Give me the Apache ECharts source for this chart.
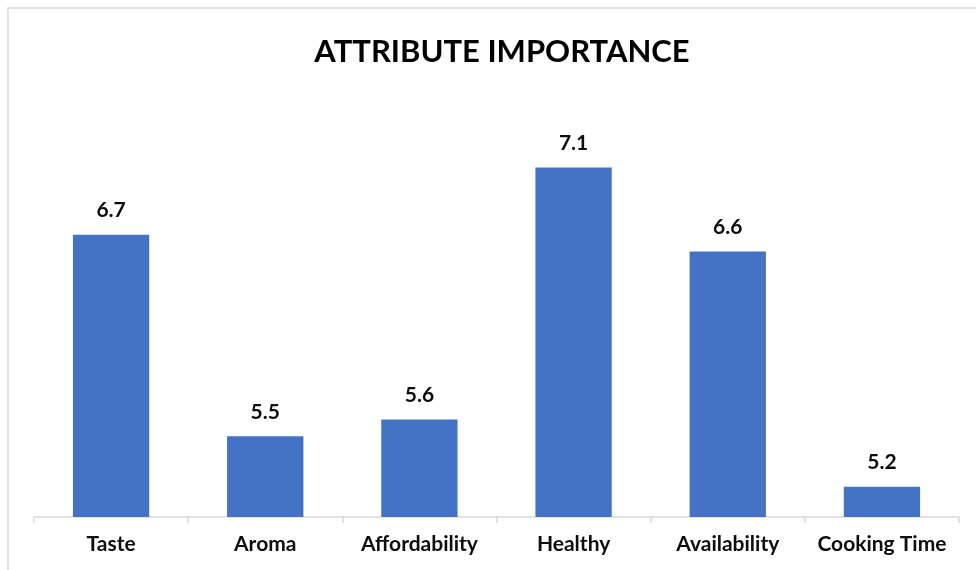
<!DOCTYPE html>
<html>
<head>
<meta charset="utf-8">
<script src="https://cdn.jsdelivr.net/npm/echarts@6/dist/echarts.min.js"></script>
<style>
  html, body { margin: 0; padding: 0; background: #fff; }
  #chart { width: 976px; height: 570px; }
</style>
</head>
<body>
<div id="chart"></div>
<script>
// Attribute importance scores
const categories = ['Taste', 'Aroma', 'Affordability', 'Healthy', 'Availability', 'Cooking Time'];
const importance = [6.7, 5.5, 5.6, 7.1, 6.6, 5.2];
const chartTitle = 'ATTRIBUTE IMPORTANCE';

const FONT = 'Lato, "Open Sans", sans-serif';
const chart = echarts.init(document.getElementById('chart'), null, { renderer: 'canvas' });

chart.setOption({
  backgroundColor: '#ffffff',
  animation: false,
  title: {
    text: chartTitle,
    left: 497,
    top: 31,
    textAlign: 'center',
    textStyle: { fontFamily: FONT, fontWeight: 'bold', fontSize: 31, color: '#000000' }
  },
  graphic: [{
    type: 'rect',
    shape: { x: 8, y: 8, width: 1000, height: 600 },
    style: { fill: 'none', stroke: '#d9d9d9', lineWidth: 1.5 },
    silent: true
  }],
  grid: { left: 34, right: 17, top: 97, bottom: 53 },
  xAxis: {
    type: 'category',
    data: categories,
    axisLine: { show: true, lineStyle: { color: '#d9d9d9', width: 1.5 } },
    axisTick: { show: true, length: 6, lineStyle: { color: '#d9d9d9', width: 1.5 } },
    axisLabel: {
      margin: 17, interval: 0,
      fontFamily: FONT, fontWeight: 'bold', fontSize: 21, color: '#0d0d0d'
    }
  },
  yAxis: {
    type: 'value',
    min: 5.02,
    max: 7.52,
    show: false,
    splitLine: { show: false }
  },
  series: [{
    type: 'bar',
    data: importance,
    barWidth: '49.5%',
    itemStyle: { color: '#4472C4' },
    label: {
      show: true,
      position: 'top',
      distance: 14,
      formatter: p => p.value.toFixed(1),
      fontFamily: FONT, fontWeight: 'bold', fontSize: 21, color: '#0d0d0d'
    }
  }]
});
</script>
</body>
</html>
